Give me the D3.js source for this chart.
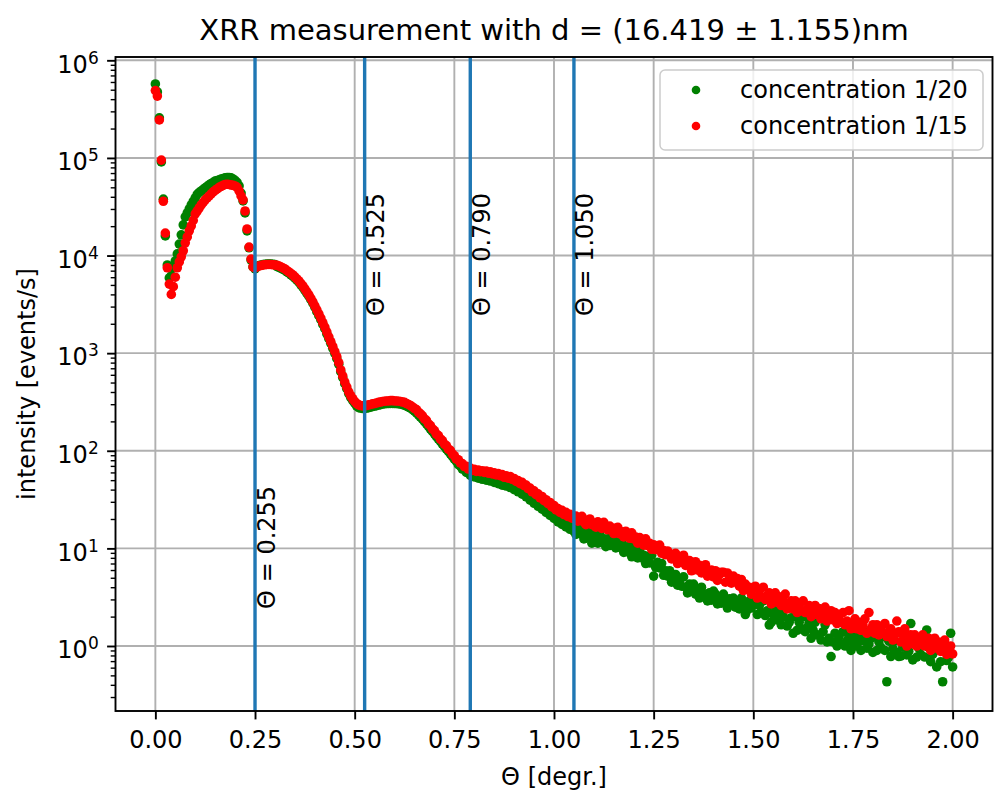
<!DOCTYPE html>
<html>
<head>
<meta charset="utf-8">
<script src="https://cdn.jsdelivr.net/npm/d3@7"></script>
<style>
  body { margin: 0; background: #fff; }
  svg { display: block; font-family: "DejaVu Sans", sans-serif; }
</style>
</head>
<body>
<div id="chart"></div>
<script>
// scattering angle grid (degrees)
const theta = [
  0,0.005,0.01,0.015,0.02,0.025,0.03,0.035,0.04,0.045,0.05,0.055,0.06,0.065,0.07,0.075,0.08,0.085,0.09,0.095,
  0.1,0.105,0.11,0.115,0.12,0.125,0.13,0.135,0.14,0.145,0.15,0.155,0.16,0.165,0.17,0.175,0.18,0.185,0.19,0.195,
  0.2,0.205,0.21,0.215,0.22,0.225,0.23,0.235,0.24,0.245,0.25,0.255,0.26,0.265,0.27,0.275,0.28,0.285,0.29,0.295,
  0.3,0.305,0.31,0.315,0.32,0.325,0.33,0.335,0.34,0.345,0.35,0.355,0.36,0.365,0.37,0.375,0.38,0.385,0.39,0.395,
  0.4,0.405,0.41,0.415,0.42,0.425,0.43,0.435,0.44,0.445,0.45,0.455,0.46,0.465,0.47,0.475,0.48,0.485,0.49,0.495,
  0.5,0.505,0.51,0.515,0.52,0.525,0.53,0.535,0.54,0.545,0.55,0.555,0.56,0.565,0.57,0.575,0.58,0.585,0.59,0.595,
  0.6,0.605,0.61,0.615,0.62,0.625,0.63,0.635,0.64,0.645,0.65,0.655,0.66,0.665,0.67,0.675,0.68,0.685,0.69,0.695,
  0.7,0.705,0.71,0.715,0.72,0.725,0.73,0.735,0.74,0.745,0.75,0.755,0.76,0.765,0.77,0.775,0.78,0.785,0.79,0.795,
  0.8,0.805,0.81,0.815,0.82,0.825,0.83,0.835,0.84,0.845,0.85,0.855,0.86,0.865,0.87,0.875,0.88,0.885,0.89,0.895,
  0.9,0.905,0.91,0.915,0.92,0.925,0.93,0.935,0.94,0.945,0.95,0.955,0.96,0.965,0.97,0.975,0.98,0.985,0.99,0.995,
  1,1.005,1.01,1.015,1.02,1.025,1.03,1.035,1.04,1.045,1.05,1.055,1.06,1.065,1.07,1.075,1.08,1.085,1.09,1.095,
  1.1,1.105,1.11,1.115,1.12,1.125,1.13,1.135,1.14,1.145,1.15,1.155,1.16,1.165,1.17,1.175,1.18,1.185,1.19,1.195,
  1.2,1.205,1.21,1.215,1.22,1.225,1.23,1.235,1.24,1.245,1.25,1.255,1.26,1.265,1.27,1.275,1.28,1.285,1.29,1.295,
  1.3,1.305,1.31,1.315,1.32,1.325,1.33,1.335,1.34,1.345,1.35,1.355,1.36,1.365,1.37,1.375,1.38,1.385,1.39,1.395,
  1.4,1.405,1.41,1.415,1.42,1.425,1.43,1.435,1.44,1.445,1.45,1.455,1.46,1.465,1.47,1.475,1.48,1.485,1.49,1.495,
  1.5,1.505,1.51,1.515,1.52,1.525,1.53,1.535,1.54,1.545,1.55,1.555,1.56,1.565,1.57,1.575,1.58,1.585,1.59,1.595,
  1.6,1.605,1.61,1.615,1.62,1.625,1.63,1.635,1.64,1.645,1.65,1.655,1.66,1.665,1.67,1.675,1.68,1.685,1.69,1.695,
  1.7,1.705,1.71,1.715,1.72,1.725,1.73,1.735,1.74,1.745,1.75,1.755,1.76,1.765,1.77,1.775,1.78,1.785,1.79,1.795,
  1.8,1.805,1.81,1.815,1.82,1.825,1.83,1.835,1.84,1.845,1.85,1.855,1.86,1.865,1.87,1.875,1.88,1.885,1.89,1.895,
  1.9,1.905,1.91,1.915,1.92,1.925,1.93,1.935,1.94,1.945,1.95,1.955,1.96,1.965,1.97,1.975,1.98,1.985,1.99,1.995,
  2
];

// intensity [events/s], concentration 1/20 (green)
const conc20 = [
  573000,475000,257000,91000,37800,15900,8000,5900,6200,7500,
  8800,10400,13100,16300,20600,24900,27300,30000,33000,35800,
  38900,42300,44300,45900,47600,49300,51100,52900,54800,56100,
  58100,58800,59500,60900,61600,62400,63100,63100,62400,60900,
  58800,56100,51600,43700,36300,27300,17900,12000,9000,7640,
  7300,7720,7900,7990,8090,8130,8180,8180,8180,8130,
  8090,7710,7590,7410,7240,7070,6790,6590,6350,6130,
  5860,5590,5330,5010,4730,4410,4110,3830,3530,3250,
  2960,2660,2420,2200,1970,1780,1580,1410,1260,1120,
  998,883,768,646,562,487,434,386,351,327,
  307,287,277,274,271,271,274,277,280,284,
  287,290,294,297,301,303,305,305,306,306,
  305,305,303,301,297,294,287,280,274,264,
  255,244,233,221,211,199,189,178,167,158,
  149,140,132,125,117,111,104,98.6,93,87.4,
  82,78,72,70,65,64.5,60,60.5,56,57,
  54,55.5,52.5,54,51,53,50,51.5,49,50.5,
  47.5,49,46,47.5,44.5,46,43.5,45,42,43,
  40,41,38,39,36,37,33.8,34.2,31.2,31.8,
  29,29.6,27,27.7,25.2,25.8,23.4,24.1,21.8,22.4,
  20.3,20.8,18.7,19.4,17.6,18.3,16.6,17.4,15.7,16.3,
  14.9,13.9,16.1,14.2,16.2,12.5,14.1,12.8,14.7,11.3,
  13.5,12.6,11.3,13.9,11.6,12.5,10.4,12.5,10.7,13.1,
  10.9,10.1,11.7,10.3,11.8,9.1,10.2,9.2,10.7,8.2,
  9.8,9.0,8.0,9.7,8.0,8.5,7.0,8.3,7.1,8.5,
  5.2,6.4,7.2,6.3,7.0,5.3,5.9,5.2,5.9,4.5,
  5.25,5.4,4.2,4.7,4.1,5.1,4.0,3.5,4.3,3.8,
  4.3,3.4,3.8,3.1,4.0,3.3,3.4,2.9,3.5,2.95,
  3.65,3.4,2.7,3.1,2.75,3.4,2.8,2.45,3.05,2.75,
  3.1,2.5,2.9,2.4,3.1,2.6,2.1,2.35,2.9,2.45,
  3.05,2.9,2.1,2.6,2.2,2.9,2.05,2.3,1.64,1.75,
  2.1,2.5,1.85,2.2,1.65,2.0,2.4,1.6,1.75,1.95,
  1.35,2.0,1.45,1.75,1.5,2.0,1.4,1.55,1.75,1.2,
  1.45,1.75,1.3,2.4,1.15,1.4,1.65,1.1,1.2,0.78,
  1.1,1.35,1.0,1.25,1.05,1.4,1.0,1.13,1.25,0.9,
  1.07,1.3,1.0,1.2,0.9,1.13,1.4,0.95,1.05,1.2,
  0.86,1.25,0.9,1.1,0.97,1.25,0.9,0.43,1.12,0.78,
  0.94,1.13,0.86,0.78,0.79,0.97,1.17,0.81,0.88,1.7,
  0.72,1.05,0.77,0.95,0.82,1.07,0.77,1.46,0.96,0.69,
  0.82,1.0,0.61,0.91,0.69,0.43,1.02,0.71,0.77,1.35,
  0.61
];

// intensity [events/s], concentration 1/15 (red)
const conc15 = [
  490000,430000,245000,95000,36000,17000,7500,5100,4000,4800,
  6000,7500,8600,9700,11200,13500,15500,17900,20100,22900,
  26700,28600,30700,33000,35000,37200,38900,40800,42800,44900,
  46500,48100,49900,51100,52300,53500,53700,53500,52800,52300,
  51600,49900,45900,40800,37200,28600,18700,12200,9200,7640,
  7460,7640,7820,7910,8010,8050,8100,8100,8100,8050,
  8010,7950,7820,7640,7460,7290,7000,6790,6550,6320,
  6040,5760,5490,5170,4880,4550,4240,3950,3640,3350,
  3050,2770,2520,2290,2050,1850,1650,1470,1310,1170,
  1040,920,800,673,585,507,452,402,366,341,
  320,305,295,291,288,288,291,295,298,302,
  305,309,313,316,320,322,324,324,326,326,
  324,324,322,320,316,313,305,298,291,281,
  271,264,248,239,228,212,205,189,181,168,
  161,148,143,132,127,117,113,104,101,93,
  89,82,81,75,74,69,69.5,65,66.5,63,
  64.5,61.5,63.5,61,62.5,60,62,59,61,58,
  59.5,56.5,58.5,55.5,57,53.5,55.5,52.5,54.5,51,
  52,48.5,49.5,46,47.5,44,44.5,41,41.5,38,
  38.8,35.5,36.2,33,34,30.8,31.5,28.7,29.5,26.6,
  27.5,24.8,25.6,23.4,24.5,22.2,23.4,21.2,22.3,20.4,
  21.3,21.4,19.0,20.1,21.3,18.6,17.5,19.4,20.0,17.5,
  18.2,16.5,18.7,17.7,16.0,18.5,16.2,15.5,16.9,16.1,
  14.2,16.2,16.4,14.1,14.8,13.1,15.0,13.7,12.7,14.4,
  12.5,13.1,11.3,12.9,12.0,10.8,12.5,10.7,11.3,9.8,
  10.9,9.7,10.6,10.8,8.9,9.5,8.6,9.4,8.5,7.8,
  8.7,8.9,7.0,8.1,7.2,8.5,6.7,7.2,7.5,5.9,
  6.5,7.3,6.0,6.7,5.6,6.2,6.8,5.2,5.6,6.0,
  5.1,5.9,4.7,5.4,5.7,5.7,4.5,5.6,5.2,4.4,
  5.2,4.6,4.9,4.1,4.8,3.7,4.3,3.8,4.0,3.4,
  3.9,4.1,3.1,3.7,3.2,4.0,3.0,3.3,3.5,2.7,
  3.0,3.5,2.8,3.2,2.6,2.9,3.4,2.4,2.6,2.9,
  2.4,2.9,2.2,2.6,2.3,2.9,2.2,2.4,2.6,2.0,
  2.2,2.6,2.1,2.4,1.9,2.2,2.5,1.8,2.0,2.3,
  1.85,2.2,1.7,2.0,1.75,2.2,1.65,1.8,2.3,1.5,
  1.65,1.9,1.5,1.75,1.45,1.65,1.9,1.35,2.2,1.5,
  1.65,1.35,1.65,1.3,1.5,1.35,1.7,1.25,1.4,1.5,
  1.15,1.3,1.8,1.4,1.1,1.3,1.5,1.0,1.15,1.3,
  1.05,1.3,1.0,1.2,1.05,1.3,1.0,1.1,1.2,0.9,
  1.05,1.2,0.95,1.1,0.88,1.0,1.15,0.82,0.9,1.0,
  0.83
];

const seriesNames = ["concentration 1/20", "concentration 1/15"];
const seriesColors = ["#008000", "#ff0000"];

// fringe minima marked with vertical lines
const markerTheta = [0.25, 0.525, 0.79, 1.05];
const markerText = ["Θ = 0.255", "Θ = 0.525", "Θ = 0.790", "Θ = 1.050"];
const markerTextY = [2.4, 2400, 2400, 2400];

const xTicks = [0, 0.25, 0.5, 0.75, 1, 1.25, 1.5, 1.75, 2];
const yTicks = [1, 10, 100, 1000, 10000, 100000, 1000000];

const W = 994, H = 795;
const plot = { left: 115.5, right: 992.5, top: 57, bottom: 711 };

const svg = d3.select("#chart").append("svg")
  .attr("width", W).attr("height", H);

const x = d3.scaleLinear().domain([-0.1, 2.1]).range([plot.left, plot.right]);
const y = d3.scaleLog().domain([Math.pow(10, -0.666), Math.pow(10, 6.034)]).range([plot.bottom, plot.top]);

// grid
const grid = svg.append("g").attr("stroke", "#b0b0b0").attr("stroke-width", 1.9);
grid.selectAll(".gx").data(xTicks).enter().append("line")
  .attr("x1", d => x(d)).attr("x2", d => x(d)).attr("y1", plot.top).attr("y2", plot.bottom);
grid.selectAll(".gy").data(yTicks).enter().append("line")
  .attr("y1", d => y(d)).attr("y2", d => y(d)).attr("x1", plot.left).attr("x2", plot.right);

// data points, green first then red on top
const series = [conc20, conc15];
series.forEach((vals, k) => {
  svg.append("g").attr("fill", seriesColors[k])
    .selectAll("circle").data(vals).enter().append("circle")
    .attr("cx", (d, i) => x(theta[i]))
    .attr("cy", d => y(d))
    .attr("r", 4.8);
});

// vertical lines + labels
svg.append("g").selectAll("line").data(markerTheta).enter().append("line")
  .attr("x1", d => x(d)).attr("x2", d => x(d))
  .attr("y1", plot.top).attr("y2", plot.bottom)
  .attr("stroke", "#1f77b4").attr("stroke-width", 3.4);

svg.append("g").selectAll("text").data(markerTheta).enter().append("text")
  .attr("transform", (d, i) => `translate(${x(d) + 19.5},${y(markerTextY[i])}) rotate(-90)`)
  .attr("font-size", 24)
  .text((d, i) => markerText[i]);

// axes
const xAxis = svg.append("g").attr("transform", `translate(0,${plot.bottom})`)
  .call(d3.axisBottom(x).tickValues(xTicks).tickSize(8.4).tickPadding(8.4).tickFormat(d3.format(".2f")));
xAxis.select(".domain").remove();
xAxis.selectAll(".tick line").attr("stroke-width", 1.9);
xAxis.selectAll(".tick text").attr("font-size", 24).attr("font-family", "DejaVu Sans")
  .attr("fill", "#000").attr("y", 16.8).attr("dy", "0.84em");

// minor y ticks
const minor = [];
for (let k = -1; k <= 5; k++) {
  for (let m = 2; m <= 9; m++) {
    const v = m * Math.pow(10, k);
    if (v > y.domain()[0] && v < y.domain()[1]) minor.push(v);
  }
}
const yMinor = svg.append("g").attr("transform", `translate(${plot.left},0)`)
  .call(d3.axisLeft(y).tickValues(minor).tickSize(4.8).tickFormat(""));
yMinor.select(".domain").remove();
yMinor.selectAll(".tick line").attr("stroke-width", 1.4);

const yAxis = svg.append("g").attr("transform", `translate(${plot.left},0)`)
  .call(d3.axisLeft(y).tickValues(yTicks).tickSize(8.4).tickPadding(8.4));
yAxis.select(".domain").remove();
yAxis.selectAll(".tick line").attr("stroke-width", 1.9);
yAxis.selectAll(".tick text").each(function (d) {
  const t = d3.select(this);
  t.text(null).attr("dy", null).attr("y", 11.7)
    .attr("font-size", 24).attr("font-family", "DejaVu Sans").attr("fill", "#000");
  t.append("tspan").text("10");
  t.append("tspan").attr("dy", -9).attr("font-size", 17).text(Math.round(Math.log10(d)));
});

// frame
svg.append("rect").attr("x", plot.left).attr("y", plot.top)
  .attr("width", plot.right - plot.left).attr("height", plot.bottom - plot.top)
  .attr("fill", "none").attr("stroke", "#000").attr("stroke-width", 1.9);

// title and axis labels
const midX = (plot.left + plot.right) / 2;
svg.append("text").attr("x", midX).attr("y", 40)
  .attr("text-anchor", "middle").attr("font-size", 29)
  .text("XRR measurement with d = (16.419 ± 1.155)nm");
svg.append("text").attr("x", midX).attr("y", 785)
  .attr("text-anchor", "middle").attr("font-size", 24)
  .text("Θ [degr.]");
svg.append("text").attr("transform", `translate(35,${(plot.top + plot.bottom) / 2}) rotate(-90)`)
  .attr("text-anchor", "middle").attr("font-size", 24)
  .text("intensity [events/s]");

// legend
const lg = svg.append("g");
lg.append("rect").attr("x", 660).attr("y", 70).attr("width", 323).attr("height", 80)
  .attr("rx", 5).attr("fill", "#fff").attr("fill-opacity", 0.8)
  .attr("stroke", "#ccc").attr("stroke-width", 1.5);
seriesNames.forEach((name, k) => {
  lg.append("circle").attr("cx", 696).attr("cy", 90 + 36 * k).attr("r", 4.3)
    .attr("fill", seriesColors[k]);
  lg.append("text").attr("x", 740).attr("y", 98 + 36 * k).attr("font-size", 24).text(name);
});
</script>
</body>
</html>
